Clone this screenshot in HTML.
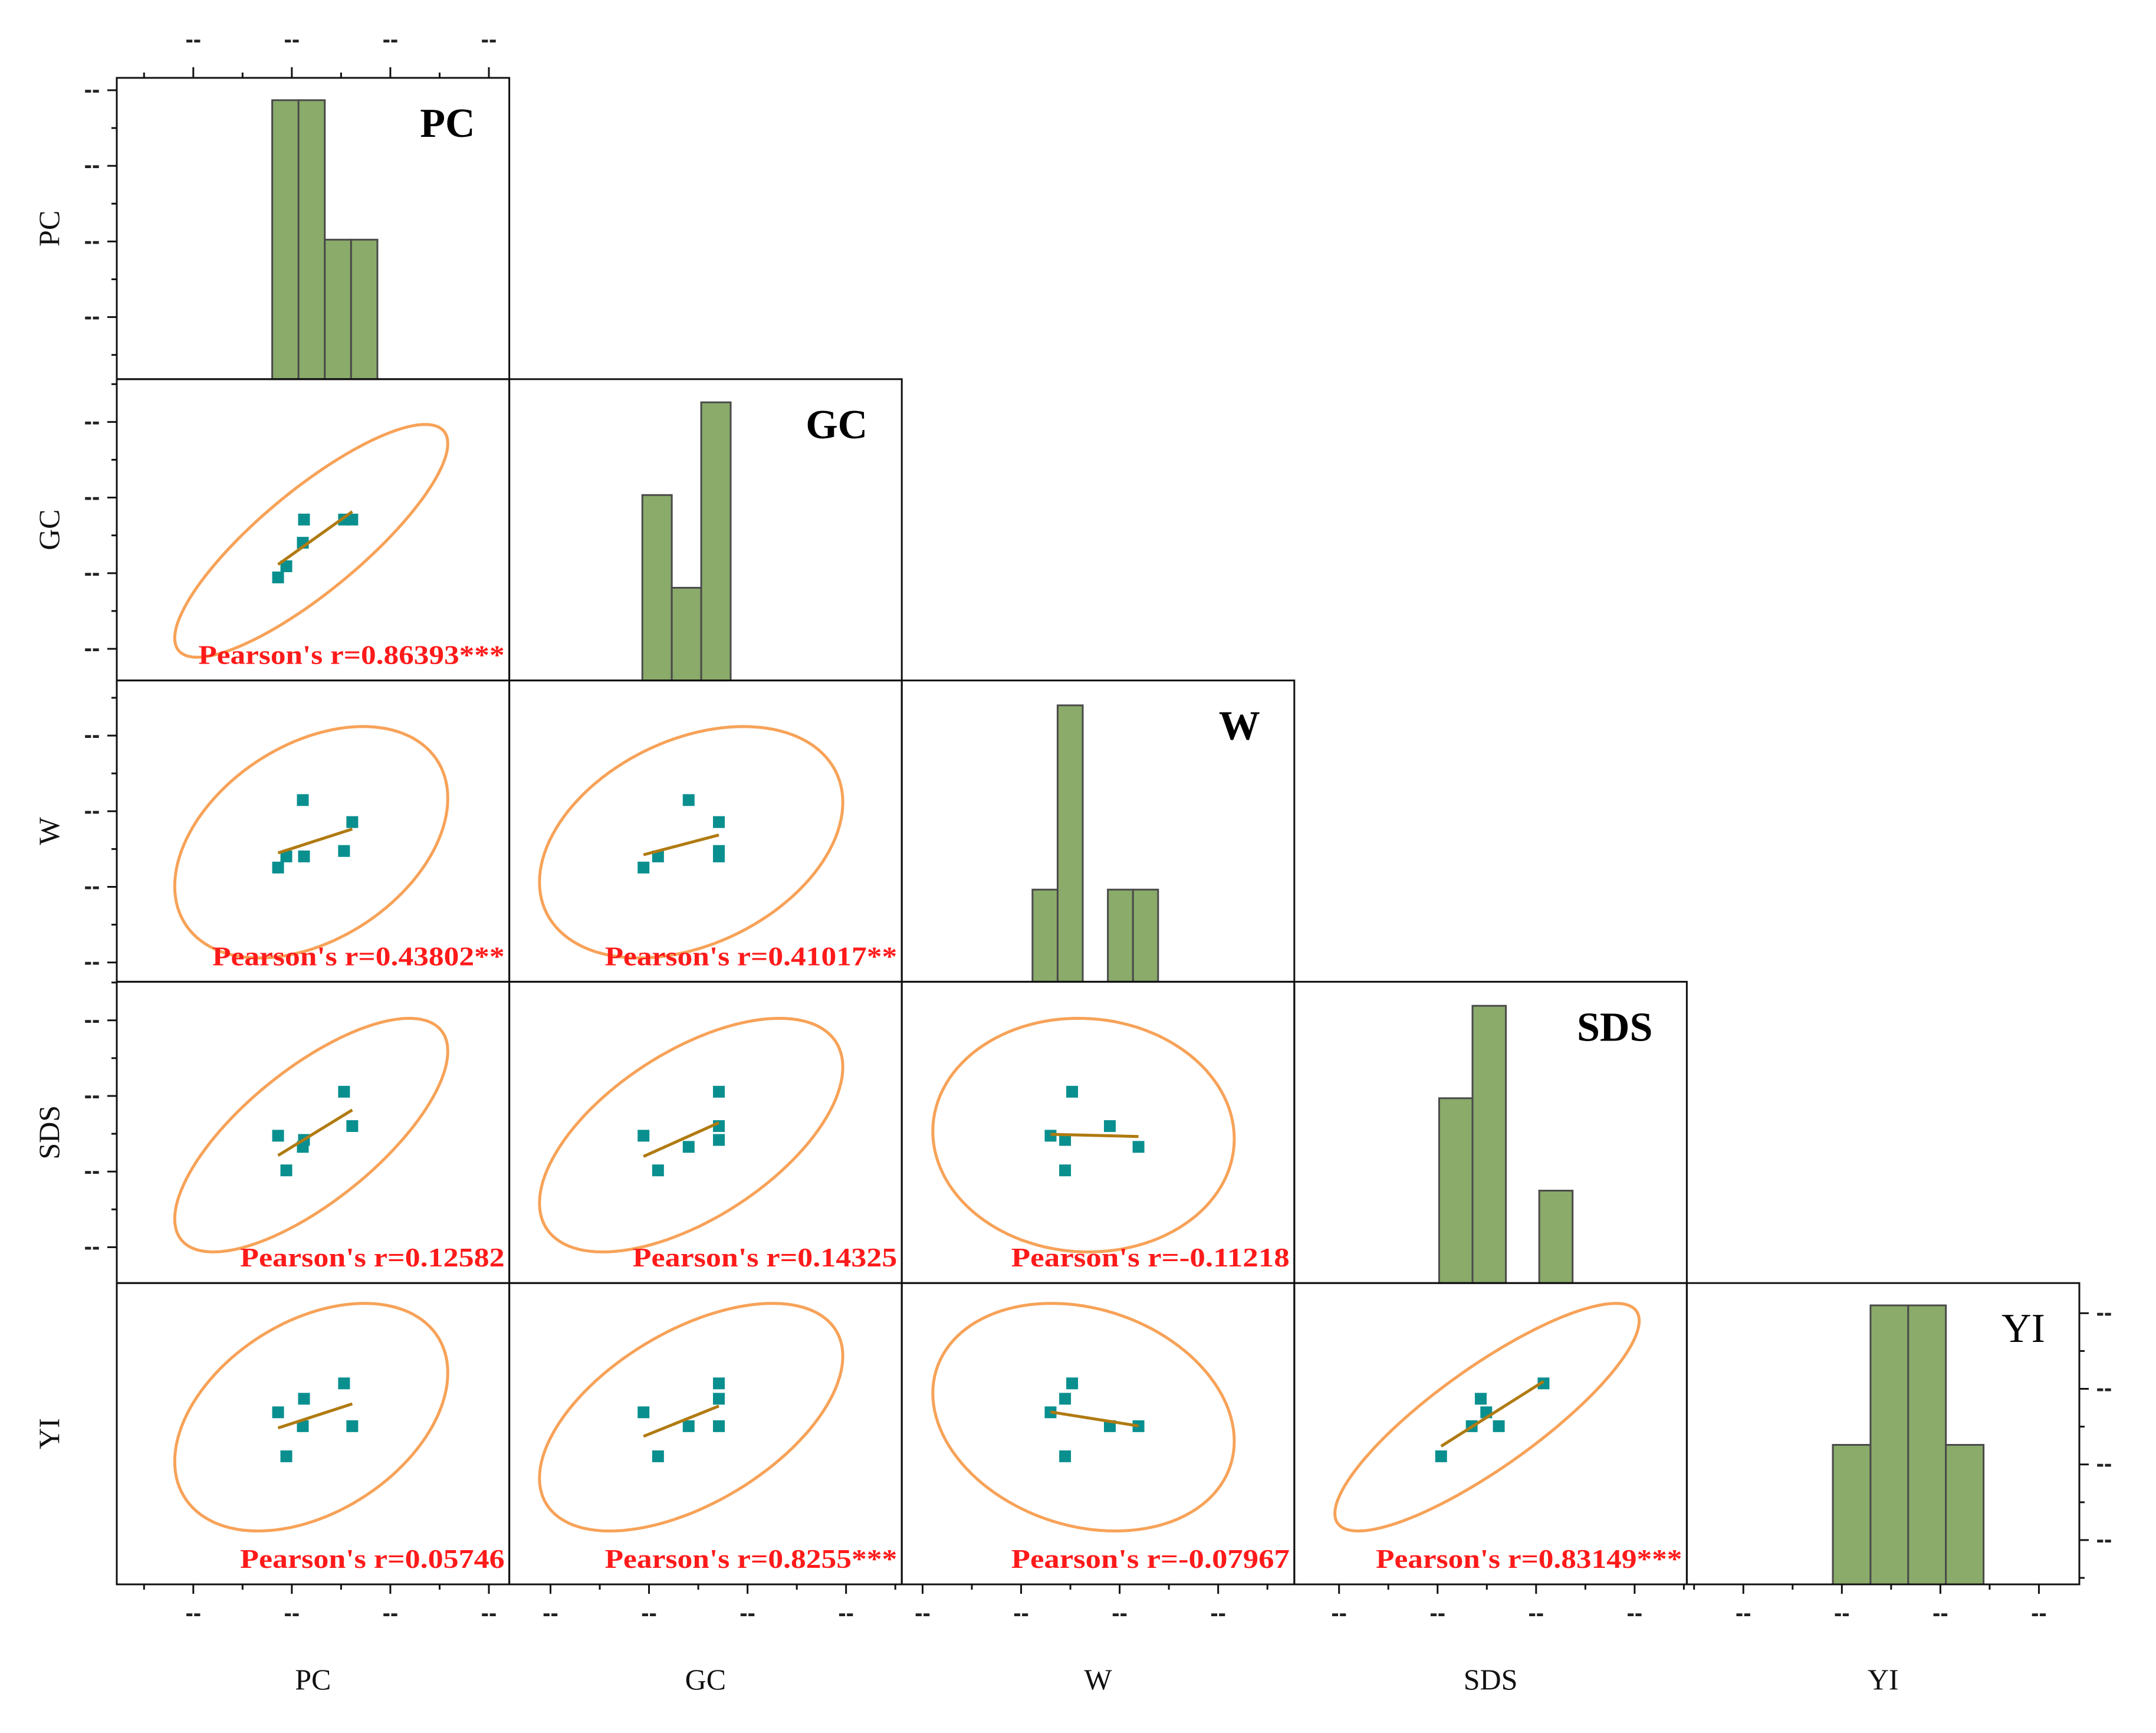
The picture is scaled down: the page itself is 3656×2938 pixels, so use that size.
<!DOCTYPE html>
<html><head><meta charset="utf-8">
<style>
html,body{margin:0;padding:0;background:#fff;}
svg{display:block;}
</style></head>
<body>
<svg id="chart" xmlns="http://www.w3.org/2000/svg" width="3656" height="2938" viewBox="0 0 3656 2938">
<rect x="0" y="0" width="3656" height="2938" fill="#fff"/>
</svg>
<script>
// ---- data ----
const variables = ["PC", "GC", "W", "SDS", "YI"];
// observation values per variable (percent of axis range)
const valPC  = [41.1, 43.2, 47.4, 47.7, 57.9, 60.0];
const valGC  = [34.2, 37.9, 45.7, 53.4, 53.4, 53.4];
const valW   = [37.9, 41.6, 60.3, 41.6, 43.4, 53.0];
const valSDS = [48.9, 37.4, 45.2, 47.5, 63.5, 52.1];
const valYI  = [57.1, 42.5, 52.5, 61.6, 66.7, 52.5];
// histogram counts per variable
const histPC  = [2, 2, 1, 1];
const histGC  = [2, 1, 3];
const histW   = [1, 3, 0, 1, 1];
const histSDS = [2, 3, 0, 1];
const histYI  = [1, 2, 2, 1];
const histStart = [39.6, 33.9, 33.3, 36.9, 37.2];
const histBinW  = [6.7, 7.5, 6.4, 8.5, 9.6];
const histMax   = [2.16, 3.25, 3.27, 3.26, 2.16];
const pearsonLabels = {
  "1-0": "Pearson's r=0.86393***",
  "2-0": "Pearson's r=0.43802**",
  "2-1": "Pearson's r=0.41017**",
  "3-0": "Pearson's r=0.12582",
  "3-1": "Pearson's r=0.14325",
  "3-2": "Pearson's r=-0.11218",
  "4-0": "Pearson's r=0.05746",
  "4-1": "Pearson's r=0.8255***",
  "4-2": "Pearson's r=-0.07967",
  "4-3": "Pearson's r=0.83149***"
};
const tickLabel = "--";
const rowTickStart = [0.041, 0.142, 0.183, 0.128, 0.100];
const colTickStart = [0.195, 0.105, 0.053, 0.114, 0.144];

// ---- layout ----
const NS = "http://www.w3.org/2000/svg";
const svg = document.getElementById("chart");
const X0 = 198, CW = 665.6, Y0 = 132, CH = 510.8, N = 5;
const TICKSTEP = 0.251;
const vals = [valPC, valGC, valW, valSDS, valYI];
const hists = [histPC, histGC, histW, histSDS, histYI];

function el(tag, attrs, parent) {
  const e = document.createElementNS(NS, tag);
  for (const k in attrs) e.setAttribute(k, attrs[k]);
  (parent || svg).appendChild(e);
  return e;
}
function xs(col, v) { return X0 + col * CW + v / 100 * CW; }
function ys(row, v) { return Y0 + (row + 1) * CH - v / 100 * CH; }

const gMarks = el("g", {});



// diagonal histograms
for (let i = 0; i < N; i++) {
  const g = el("g", {}, gMarks);
  
  
  const counts = hists[i];
  for (let b = 0; b < counts.length; b++) {
    if (counts[b] === 0) continue;
    const xa = xs(i, histStart[i] + b * histBinW[i]);
    const xb = xs(i, histStart[i] + (b + 1) * histBinW[i]);
    const hv = counts[b] / histMax[i] * 100;
    const yt = ys(i, hv), yb = ys(i, 0);
    const r = el("rect", {x: xa, y: yt, width: xb - xa, height: yb - yt, fill: "#8aab6a", stroke: "#4a4a4a", "stroke-width": 3}, g);
    
    
  }
  const t = el("text", {x: X0 + (i + 1) * CW - 58, y: Y0 + i * CH + 100, "text-anchor": "end",
    "font-family": "Liberation Serif, serif", "font-size": 70, "font-weight": i === 4 ? "normal" : "bold", fill: "#000"}, g);
  t.textContent = variables[i];
  
  
}

// scatter cells
const C95 = Math.sqrt(2 * 5 / 4 * 6.944 * (1 + 1 / 6));
for (let r = 1; r < N; r++) {
  for (let c = 0; c < r; c++) {
    const g = el("g", {}, gMarks);
    
    
    const xv = vals[c], yv = vals[r], n = xv.length;
    const mx = xv.reduce((a, b) => a + b) / n, my = yv.reduce((a, b) => a + b) / n;
    let sxx = 0, syy = 0, sxy = 0;
    for (let k = 0; k < n; k++) { sxx += (xv[k] - mx) ** 2; syy += (yv[k] - my) ** 2; sxy += (xv[k] - mx) * (yv[k] - my); }
    const vx = sxx / (n - 1), vy = syy / (n - 1), cxy = sxy / (n - 1);
    const l11 = Math.sqrt(vx), l21 = cxy / l11, l22 = Math.sqrt(Math.max(vy - l21 * l21, 1e-6));
    let d = "";
    for (let s = 0; s <= 120; s++) {
      const t = s / 120 * 2 * Math.PI, a = Math.cos(t), b = Math.sin(t);
      const px = mx + C95 * l11 * a, py = my + C95 * (l21 * a + l22 * b);
      d += (s ? "L" : "M") + xs(c, px).toFixed(1) + "," + ys(r, py).toFixed(1);
    }
    const e = el("path", {d: d + "Z", fill: "none", stroke: "#f7a258", "stroke-width": 5}, g);
    
    
    const slope = sxy / sxx, icpt = my - slope * mx;
    const xmin = Math.min(...xv), xmax = Math.max(...xv);
    for (let k = 0; k < n; k++) {
      const p = el("rect", {x: xs(c, xv[k]) - 10, y: ys(r, yv[k]) - 10, width: 20, height: 20, fill: "#0a8f8f"}, g);
      
      
    }
    const ln = el("line", {x1: xs(c, xmin), y1: ys(r, icpt + slope * xmin), x2: xs(c, xmax), y2: ys(r, icpt + slope * xmax), stroke: "#b07a10", "stroke-width": 5}, g);
    
    
    const str = pearsonLabels[r + "-" + c];
    const tx = el("text", {x: X0 + (c + 1) * CW - 8, y: Y0 + (r + 1) * CH - 28, "text-anchor": "end",
      "font-family": "Liberation Serif, serif", "font-size": 46, "font-weight": "bold", fill: "#ff1a1a",
      textLength: str.length * 23.6, lengthAdjust: "spacingAndGlyphs"}, g);
    tx.textContent = str;
    
    
  }
}

// cell borders
const gBox = el("g", {});


for (let r = 0; r < N; r++) for (let c = 0; c <= r; c++) {
  const b = el("rect", {x: X0 + c * CW, y: Y0 + r * CH, width: CW, height: CH, fill: "none", stroke: "#111", "stroke-width": 3}, gBox);
  
  
}

// axes ticks
const gAx = el("g", {});


function tickText(x, y, anchor) {
  const t = el("text", {x: x, y: y, "text-anchor": anchor, "font-family": "Liberation Sans, sans-serif", "font-size": 40, "font-weight": "bold", fill: "#222"}, gAx);
  t.textContent = tickLabel;
  
  
}
for (let r = 0; r < N; r++) {
  const right = r === 4;
  const ax = right ? X0 + N * CW : X0;
  const dir = right ? 1 : -1;
  for (let k = -1; k < 8; k++) {
    const f = rowTickStart[r] + k * TICKSTEP / 2;
    if (f < 0 || f > 1) continue;
    const y = Y0 + r * CH + f * CH;
    const major = k % 2 === 0;
    el("line", {x1: ax, y1: y, x2: ax + dir * (major ? 16 : 9), y2: y, stroke: "#111", "stroke-width": 3}, gAx);
    if (major) tickText(ax + dir * 42, y + 12, "middle");
  }
}
for (let c = 0; c < N; c++) {
  for (let k = -1; k < 8; k++) {
    const f = colTickStart[c] + k * TICKSTEP / 2;
    if (f < 0 || f > 1) continue;
    const x = X0 + c * CW + f * CW;
    const major = k % 2 === 0;
    const yb = Y0 + N * CH;
    el("line", {x1: x, y1: yb, x2: x, y2: yb + (major ? 16 : 9), stroke: "#111", "stroke-width": 3}, gAx);
    if (major) tickText(x, yb + 62, "middle");
    if (c === 0) {
      el("line", {x1: x, y1: Y0, x2: x, y2: Y0 - (major ? 18 : 9), stroke: "#111", "stroke-width": 3}, gAx);
      if (major) tickText(x, Y0 - 52, "middle");
    }
  }
}
// axis titles
for (let i = 0; i < N; i++) {
  const cy = Y0 + i * CH + CH / 2;
  const t = el("text", {x: 0, y: 0, transform: "translate(100," + cy + ") rotate(-90)", "text-anchor": "middle",
    "font-family": "Liberation Serif, serif", "font-size": 50, fill: "#111"}, gAx);
  t.textContent = variables[i];
  
  
  const b = el("text", {x: X0 + i * CW + CW / 2, y: 2864, "text-anchor": "middle",
    "font-family": "Liberation Serif, serif", "font-size": 50, fill: "#111"}, gAx);
  b.textContent = variables[i];
  
  
}
</script>
</body></html>
